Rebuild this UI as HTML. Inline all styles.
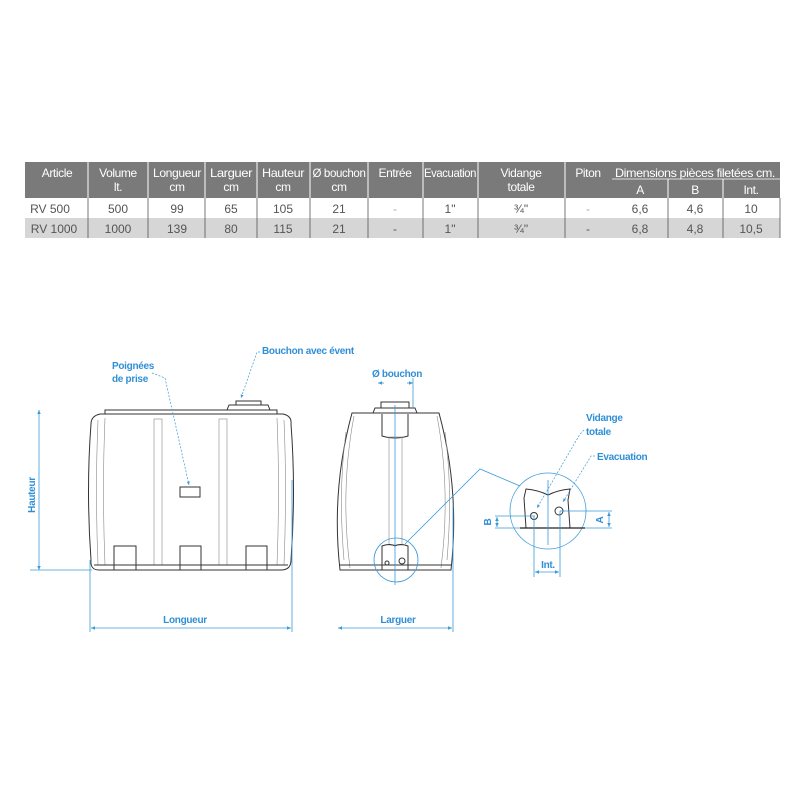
<!DOCTYPE html>
<html><head><meta charset="utf-8"><style>
body{margin:0;background:#fff;width:800px;height:800px;overflow:hidden}
svg{display:block}
.h{fill:#fff;font:12px "Liberation Sans",sans-serif;text-anchor:middle;letter-spacing:-0.4px}
.t{fill:#555;font:12px "Liberation Sans",sans-serif;text-anchor:middle}
.b{fill:#2f8fd6;font:bold 10px "Liberation Sans",sans-serif;letter-spacing:-0.3px}
.k{fill:none;stroke:#333;stroke-width:1}
.g{fill:none;stroke:#888;stroke-width:.6}
.bl{fill:none;stroke:#3a9ad9;stroke-width:.8}
.d{fill:none;stroke:#3a9ad9;stroke-width:.7;stroke-dasharray:2 1.5}
</style></head><body>
<svg width="800" height="800" viewBox="0 0 800 800">
<defs><marker id="a" markerWidth="6" markerHeight="6" refX="5" refY="3" orient="auto"><path d="M0,0.8 L5,3 L0,5.2z" fill="#3a9ad9"/></marker>
<marker id="s" markerWidth="6" markerHeight="6" refX="1" refY="3" orient="auto"><path d="M6,0.8 L1,3 L6,5.2z" fill="#3a9ad9"/></marker></defs>
<!-- table -->
<rect x="25" y="162" width="755" height="36" fill="#7a7a7a"/>
<rect x="25" y="218" width="755" height="20" fill="#d6d6d6"/>
<line x1="612" y1="179" x2="780" y2="179" stroke="#fff" stroke-width=".8"/>
<g stroke="#fff" stroke-width="1">
<line x1="88" y1="162" x2="88" y2="198"/><line x1="148" y1="162" x2="148" y2="198"/><line x1="205" y1="162" x2="205" y2="198"/><line x1="257" y1="162" x2="257" y2="198"/><line x1="310" y1="162" x2="310" y2="198"/><line x1="368" y1="162" x2="368" y2="198"/><line x1="423" y1="162" x2="423" y2="198"/><line x1="478" y1="162" x2="478" y2="198"/><line x1="565" y1="162" x2="565" y2="198"/><line x1="668" y1="179" x2="668" y2="198"/><line x1="723" y1="179" x2="723" y2="198"/></g>
<g stroke="#555" stroke-width=".8">
<line x1="88" y1="198" x2="88" y2="238"/><line x1="148" y1="198" x2="148" y2="238"/><line x1="205" y1="198" x2="205" y2="238"/><line x1="257" y1="198" x2="257" y2="238"/><line x1="310" y1="198" x2="310" y2="238"/><line x1="368" y1="198" x2="368" y2="238"/><line x1="423" y1="198" x2="423" y2="238"/><line x1="478" y1="198" x2="478" y2="238"/><line x1="565" y1="198" x2="565" y2="238"/><line x1="668" y1="198" x2="668" y2="238"/><line x1="723" y1="198" x2="723" y2="238"/><line x1="780" y1="198" x2="780" y2="238"/></g>
<text class="h" x="57" y="177">Article</text>
<text class="h" x="118" y="177">Volume</text><text class="h" x="118" y="191">lt.</text>
<text class="h" x="177" y="177" textLength="48" lengthAdjust="spacingAndGlyphs">Longueur</text><text class="h" x="177" y="191">cm</text>
<text class="h" x="231" y="177" textLength="42" lengthAdjust="spacingAndGlyphs">Larguer</text><text class="h" x="231" y="191">cm</text>
<text class="h" x="283" y="177" textLength="42" lengthAdjust="spacingAndGlyphs">Hauteur</text><text class="h" x="283" y="191">cm</text>
<text class="h" x="339" y="177" textLength="53" lengthAdjust="spacingAndGlyphs">Ø bouchon</text><text class="h" x="339" y="191">cm</text>
<text class="h" x="395" y="177">Entrée</text>
<text class="h" x="450" y="177" textLength="52" lengthAdjust="spacingAndGlyphs">Evacuation</text>
<text class="h" x="521" y="177">Vidange</text><text class="h" x="521" y="191">totale</text>
<text class="h" x="588" y="177">Piton</text>
<text class="h" x="695" y="177" textLength="160" lengthAdjust="spacingAndGlyphs">Dimensions pièces filetées cm.</text>
<text class="h" x="640" y="194">A</text><text class="h" x="695" y="194">B</text><text class="h" x="751" y="194">Int.</text>
<g class="t">
<text x="50" y="213">RV 500</text><text x="118" y="213">500</text><text x="177" y="213">99</text><text x="231" y="213">65</text><text x="283" y="213">105</text><text x="339" y="213">21</text><text x="395" y="213" fill="#aaa">-</text><text x="450" y="213">1"</text><text x="521" y="213">¾"</text><text x="588" y="213" fill="#aaa">-</text><text x="640" y="213">6,6</text><text x="695" y="213">4,6</text><text x="751" y="213">10</text>
<text x="54" y="233">RV 1000</text><text x="118" y="233">1000</text><text x="177" y="233">139</text><text x="231" y="233">80</text><text x="283" y="233">115</text><text x="339" y="233">21</text><text x="395" y="233">-</text><text x="450" y="233">1"</text><text x="521" y="233">¾"</text><text x="588" y="233">-</text><text x="640" y="233">6,8</text><text x="695" y="233">4,8</text><text x="751" y="233">10,5</text></g>
<!-- front view -->
<path class="k" d="M100,414 L283,414 Q292,416 291,424 Q296,490 291,560 Q291,570 281,570 L99,570 Q90,570 91,560 Q86,490 91,424 Q91,416 100,414Z"/>
<path class="g" d="M98,420 Q95,490 98,565 M284,420 Q287,490 284,565 M105,418 Q102,490 105,565 M277,418 Q280,490 277,565"/>
<rect class="k" x="105" y="410" width="172" height="4"/>
<path class="k" d="M227,410 L229,405 L268,405 L270,410Z"/><rect class="k" x="236" y="401" width="25" height="4"/>
<rect class="g" x="154" y="419" width="8" height="146"/><rect class="g" x="219" y="419" width="8" height="146"/>
<rect class="k" x="180" y="487" width="20" height="10"/>
<path class="k" d="M114,570 L114,546 L136,546 L136,570 M180,570 L180,546 L201,546 L201,570 M246,570 L246,546 L267,546 L267,570 M94,565 L288,565"/>
<!-- front dims -->
<line class="bl" x1="39" y1="410" x2="39" y2="570" marker-start="url(#s)" marker-end="url(#a)"/>
<line class="bl" x1="30" y1="570" x2="92" y2="570"/>
<text class="b" transform="translate(35,495) rotate(-90)" text-anchor="middle">Hauteur</text>
<line class="bl" x1="90" y1="560" x2="90" y2="632"/><line class="bl" x1="292" y1="480" x2="292" y2="632"/>
<line class="bl" x1="91" y1="628" x2="291" y2="628" marker-start="url(#s)" marker-end="url(#a)"/>
<text class="b" x="185" y="623" text-anchor="middle">Longueur</text>
<text class="b" x="112" y="369">Poignées</text><text class="b" x="112" y="382">de prise</text>
<path class="d" d="M152,373 L165,378 L189,485" marker-end="url(#a)"/>
<text class="b" x="262" y="354">Bouchon avec évent</text>
<path class="d" d="M260,352 L257,352 L241,398" marker-end="url(#a)"/>
<!-- side view -->
<path class="k" d="M352,413 L439,413 Q460,490 451,570 L340,570 Q331,490 352,413Z"/>
<path class="g" d="M354,416 Q340,490 350,568 M437,416 Q451,490 441,568 M346,432 Q338,490 344,560 M445,432 Q453,490 447,560"/>
<line class="k" x1="340" y1="565" x2="451" y2="565"/>
<path class="k" d="M373,413 L375,408 L415,408 L417,413Z"/><rect class="k" x="381" y="402" width="28" height="6"/>
<path class="k" d="M382,414 L382,436 Q395,440 408,436 L408,414"/>
<rect class="g" x="389" y="437" width="13" height="108"/>
<path class="k" d="M382,570 L382,546 Q390,543 395,546 Q400,543 408,546 L408,570"/>
<circle class="k" cx="387" cy="563" r="2"/><circle class="k" cx="402" cy="561" r="3"/>
<circle class="bl" cx="396" cy="560" r="22" stroke-width=".5"/>
<line class="bl" x1="395" y1="405" x2="395" y2="585" stroke-width=".4"/>
<path class="bl" d="M405,544 L480,469 L520,486" stroke-width=".5"/>
<text class="b" x="397" y="377" text-anchor="middle">Ø bouchon</text>
<line class="bl" x1="384" y1="383" x2="378" y2="383" marker-end="url(#a)"/>
<line class="bl" x1="407" y1="383" x2="413" y2="383" marker-end="url(#a)"/>
<line class="bl" x1="413" y1="378" x2="413" y2="408"/>
<line class="bl" x1="453" y1="505" x2="453" y2="632"/>
<line class="bl" x1="338" y1="628" x2="452" y2="628" marker-start="url(#s)" marker-end="url(#a)"/>
<text class="b" x="398" y="623" text-anchor="middle">Larguer</text>
<!-- detail -->
<circle class="bl" cx="548" cy="511" r="38" stroke-width=".5"/>
<path class="k" d="M526,528 L524,498 L526,489 Q538,490 548,495 Q558,490 570,489 L568,500 L570,528 Z"/>
<line x1="520" y1="528" x2="585" y2="528" stroke="#222" stroke-width="1.2"/>
<circle class="k" cx="534" cy="516" r="3.5"/><circle class="k" cx="559" cy="511" r="4"/>
<line class="bl" x1="548" y1="480" x2="548" y2="545" stroke-width=".4"/>
<line class="bl" x1="495" y1="516" x2="535" y2="516"/><line class="bl" x1="495" y1="528" x2="520" y2="528"/>
<line class="bl" x1="497" y1="517" x2="497" y2="527" marker-start="url(#s)" marker-end="url(#a)"/>
<text class="b" transform="translate(491,522) rotate(-90)" text-anchor="middle" font-size="9">B</text>
<line class="bl" x1="560" y1="511" x2="612" y2="511"/><line class="bl" x1="585" y1="528" x2="612" y2="528"/>
<line class="bl" x1="609" y1="512" x2="609" y2="527" marker-start="url(#s)" marker-end="url(#a)"/>
<text class="b" transform="translate(603,520) rotate(-90)" text-anchor="middle" font-size="9">A</text>
<line class="bl" x1="534" y1="516" x2="534" y2="577"/><line class="bl" x1="560" y1="511" x2="560" y2="577"/>
<line class="bl" x1="535" y1="572" x2="559" y2="572" marker-start="url(#s)" marker-end="url(#a)"/>
<text class="b" x="548" y="568" text-anchor="middle">Int.</text>
<text class="b" x="586" y="421">Vidange</text><text class="b" x="586" y="435">totale</text>
<path class="d" d="M584,430 L580,434 L537,508" marker-end="url(#a)"/>
<text class="b" x="597" y="460">Evacuation</text>
<path class="d" d="M595,456 L591,456 L563,502" marker-end="url(#a)"/>
</svg>
</body></html>
